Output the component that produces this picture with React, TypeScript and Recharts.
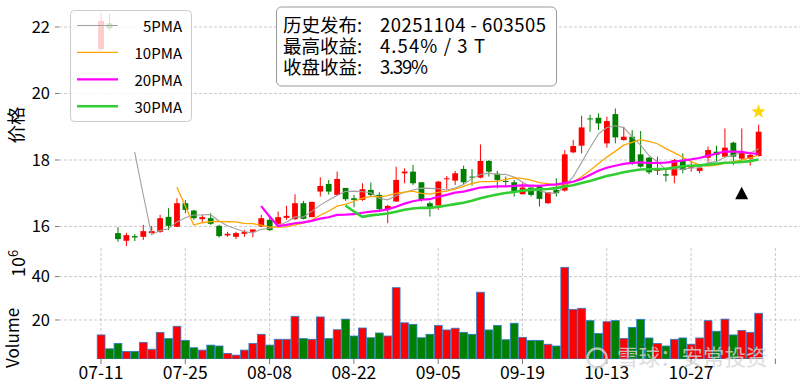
import React from "react";
import { ComposedChart, Bar, Line, XAxis, YAxis, CartesianGrid, Scatter } from "recharts";

const FONT = '"Noto Sans CJK SC", "Noto Sans", sans-serif';
const RED = "#ff0000";
const GREEN = "#008000";

// trading days 07-11 .. 11-06
const dates = [
  "07-11", "07-14", "07-15", "07-16", "07-17", "07-18", "07-21", "07-22", "07-23", "07-24",
  "07-25", "07-28", "07-29", "07-30", "07-31", "08-01", "08-04", "08-05", "08-06", "08-07",
  "08-08", "08-11", "08-12", "08-13", "08-14", "08-15", "08-18", "08-19", "08-20", "08-21",
  "08-22", "08-25", "08-26", "08-27", "08-28", "08-29", "09-01", "09-02", "09-03", "09-04",
  "09-05", "09-08", "09-09", "09-10", "09-11", "09-12", "09-15", "09-16", "09-17", "09-18",
  "09-19", "09-22", "09-23", "09-24", "09-25", "09-26", "09-29", "09-30", "10-09", "10-10",
  "10-13", "10-14", "10-15", "10-16", "10-17", "10-20", "10-21", "10-22", "10-23", "10-24",
  "10-27", "10-28", "10-29", "10-30", "10-31", "11-03", "11-04", "11-05", "11-06",
];

const opens = [
  21.34, 22.11, 15.8, 15.57, 15.71, 15.69, 15.8, 15.84, 16.29, 15.99,
  16.7, 16.48, 16.22, 16.25, 16.02, 15.73, 15.69, 15.78, 15.84, 16.0,
  16.2, 16.08, 16.26, 16.22, 16.7, 16.28, 17.05, 17.28, 16.95, 17.16,
  16.85, 16.8, 17.1, 16.95, 16.52, 16.75, 17.6, 17.65, 17.33, 16.7,
  16.63, 17.42, 17.38, 17.73, 17.5, 17.47, 17.97, 17.59, 17.37, 17.33,
  16.97, 17.17, 17.2, 16.7, 17.1, 17.08, 18.23, 18.43, 19.25, 19.27,
  18.5, 19.38, 18.6, 18.7, 18.17, 18.07, 17.67, 17.57, 17.53, 17.97,
  17.77, 17.67, 18.07, 18.25, 18.1, 18.52, 18.04, 18.04, 18.12,
];
const highs = [
  22.43, 22.39, 15.98, 15.81, 15.77, 16.05, 16.02, 16.35, 16.55, 16.85,
  16.8, 16.5, 16.35, 16.4, 16.05, 15.84, 15.84, 15.9, 15.91, 16.35,
  16.35, 16.45, 16.62, 16.97, 16.77, 16.74, 17.48, 17.4, 17.65, 17.16,
  16.95, 17.3, 17.32, 17.03, 16.65, 17.8, 17.75, 17.85, 17.33, 16.75,
  17.37, 17.52, 17.67, 17.83, 17.73, 18.47, 18.0, 17.67, 17.5, 17.4,
  17.3, 17.25, 17.25, 17.03, 17.45, 18.3, 18.6, 19.33, 19.36, 19.4,
  19.3, 19.55, 19.0, 18.9, 18.87, 18.1, 18.1, 17.73, 18.03, 18.2,
  17.95, 17.85, 18.4, 18.43, 18.95, 18.55, 18.95, 18.25, 19.06,
];
const lows = [
  21.3, 21.9, 15.54, 15.41, 15.56, 15.59, 15.8, 15.81, 15.89, 15.99,
  16.4, 16.2, 16.14, 16.05, 15.67, 15.69, 15.62, 15.69, 15.68, 15.98,
  15.87, 16.06, 16.2, 16.2, 16.21, 16.28, 16.9, 16.96, 16.95, 16.77,
  16.58, 16.77, 16.9, 16.48, 16.1, 16.75, 17.3, 17.25, 16.75, 16.3,
  16.5, 17.13, 17.25, 17.27, 17.23, 17.45, 17.5, 17.15, 17.2, 16.9,
  16.97, 16.9, 16.6, 16.68, 16.9, 17.05, 18.2, 18.2, 18.85, 18.9,
  18.37, 18.5, 18.58, 17.85, 17.77, 17.57, 17.55, 17.35, 17.3, 17.6,
  17.65, 17.6, 17.95, 17.97, 18.1, 17.85, 18.0, 17.83, 18.1,
];
const closes = [
  22.18, 21.96, 15.62, 15.74, 15.67, 15.86, 15.86, 16.25, 16.02, 16.7,
  16.5, 16.25, 16.28, 16.08, 15.71, 15.78, 15.8, 15.84, 15.91, 16.25,
  15.89, 16.28, 16.32, 16.7, 16.23, 16.74, 17.22, 17.05, 17.43, 16.82,
  16.8, 17.12, 16.95, 16.52, 16.62, 17.4, 17.65, 17.3, 16.8, 16.58,
  17.35, 17.45, 17.6, 17.33, 17.47, 17.97, 17.65, 17.4, 17.35, 17.07,
  17.17, 16.95, 16.83, 17.03, 17.0, 18.17, 18.42, 18.98, 19.22, 19.1,
  19.17, 18.68, 18.7, 17.88, 17.8, 17.63, 17.73, 17.53, 18.0, 17.7,
  17.83, 17.77, 18.3, 18.15, 18.37, 18.1, 18.23, 18.15, 18.85,
];
// volume, millions
const volumes = [
  13.1, 6.7, 9.2, 5.5, 5.5, 9.7, 6.5, 14.3, 11.4, 17.1,
  10.6, 7.2, 6.1, 8.4, 8.0, 4.6, 3.8, 6.1, 9.2, 13.4,
  8.4, 11.1, 11.1, 21.7, 11.4, 11.1, 21.4, 11.4, 15.5, 20.4,
  12.6, 16.3, 11.8, 14.0, 12.6, 34.9, 18.7, 18.0, 11.8, 13.4,
  17.5, 15.4, 16.2, 14.3, 13.4, 32.8, 15.4, 17.5, 10.9, 18.5,
  12.0, 10.6, 10.6, 8.8, 8.0, 44.3, 24.9, 25.4, 19.7, 13.8,
  19.2, 19.7, 11.5, 16.6, 20.3, 11.7, 9.2, 8.0, 11.1, 11.7,
  8.8, 11.7, 19.7, 14.8, 20.4, 13.1, 15.2, 14.3, 23.1,
];

const tickIdx = [0, 10, 20, 30, 40, 50, 60, 70, 80];
const priceTicks = [16, 18, 20, 22];
const volTicks = [20, 40];

const maWindows = [5, 10, 20, 30];
const maColors = ["#a0a0a0", "#ffa500", "#ff00ff", "#32cd32"];
const maWidths = [1.1, 1.3, 2.2, 2.6];

const publishMarks = [{ i: 76, y: 17.0 }];
const peakMarks = [{ i: 78, y: 19.45 }];

const infoLabels = ["历史发布:", "最高收益:", "收盘收益:"];
const infoValues = ["20251104 - 603505", "4.54% / 3 T", "3.39%"];

const rolling = (vals: number[], n: number) =>
  vals.map((_, i) => (i < n - 1 ? null : vals.slice(i - n + 1, i + 1).reduce((a, b) => a + b, 0) / n));

const maSeries = maWindows.map((n) => rolling(closes, n));

const rows = dates.map((d, i) => {
  const r: any = { i, date: d, o: opens[i], h: highs[i], l: lows[i], c: closes[i], v: volumes[i] };
  maWindows.forEach((n, k) => (r["ma" + n] = maSeries[k][i]));
  return r;
});

const X_DOMAIN: [number, number] = [-4.98, 82.92];
const BODY_W = 5.8;

const Candle = (props: any) => {
  const { x, y, width, height, payload } = props;
  const cx = x + width / 2;
  const top = Math.min(y, y + height);
  const span = Math.abs(height);
  const { o, h, l, c } = payload;
  const k = h > l ? span / (h - l) : 0;
  const yo = top + (h - o) * k;
  const yc = top + (h - c) * k;
  const col = c >= o ? RED : GREEN;
  const bt = Math.min(yo, yc);
  const bh = Math.max(Math.abs(yo - yc), 1);
  return (
    <g>
      <line x1={cx} x2={cx} y1={top} y2={top + span} stroke={col} strokeWidth={1} />
      <rect x={cx - BODY_W / 2} y={bt} width={BODY_W} height={bh} fill={col} />
    </g>
  );
};

const VolBar = (props: any) => {
  const { x, y, width, height, payload } = props;
  const cx = x + width / 2;
  const col = payload.c >= payload.o ? RED : GREEN;
  return <rect x={cx - 3.9} y={y} width={7.8} height={height} fill={col} stroke="#2b7bd0" strokeWidth={0.8} />;
};

const Triangle = (props: any) => {
  const { cx, cy } = props;
  return <path d={`M${cx},${cy - 6.5} L${cx + 6.5},${cy + 6} L${cx - 6.5},${cy + 6} Z`} fill="#000" />;
};

const Star = (props: any) => {
  const { cx, cy } = props;
  const pts: string[] = [];
  for (let j = 0; j < 10; j++) {
    const r = j % 2 === 0 ? 7.5 : 3;
    const a = -Math.PI / 2 + (j * Math.PI) / 5;
    pts.push(`${cx + r * Math.cos(a)},${cy + r * Math.sin(a)}`);
  }
  return <polygon points={pts.join(" ")} fill="#ffd700" />;
};

const tickStyle = { fontSize: 16.5, fill: "#000", fontFamily: FONT };

export default function App() {
  return (
    <div style={{ position: "absolute", left: 0, top: 0, width: 800, height: 385, background: "#fff", fontFamily: FONT }}>
      <div style={{ position: "absolute", left: 0, top: 0 }}>
        <ComposedChart width={800} height={248} data={rows} margin={{ top: 0, right: 0, bottom: 0, left: 0 }}>
          <CartesianGrid stroke="#bdbdbd" strokeDasharray="3 2" strokeWidth={0.8} syncWithTicks />
          <XAxis type="number" dataKey="i" domain={X_DOMAIN} allowDataOverflow ticks={tickIdx} height={0} tick={false} tickLine={false} axisLine={false} />
          <YAxis type="number" domain={[15.353, 22.812]} allowDataOverflow ticks={priceTicks} width={59} axisLine={false} tickSize={4} tickMargin={5} tickLine={{ stroke: "#777" }} tick={tickStyle} />
          <Bar dataKey={(d: any) => [d.l, d.h]} shape={Candle} isAnimationActive={false} />
          {maWindows.map((n, k) => (
            <Line key={n} type="linear" dataKey={"ma" + n} stroke={maColors[k]} strokeWidth={maWidths[k]} dot={false} isAnimationActive={false} />
          ))}
          <Scatter data={publishMarks} dataKey="y" shape={Triangle} isAnimationActive={false} />
          <Scatter data={peakMarks} dataKey="y" shape={Star} isAnimationActive={false} />
        </ComposedChart>
      </div>
      <div style={{ position: "absolute", left: 0, top: 248 }}>
        <ComposedChart width={800} height={137} data={rows} margin={{ top: 0, right: 0, bottom: 0, left: 0 }}>
          <CartesianGrid stroke="#bdbdbd" strokeDasharray="3 2" strokeWidth={0.8} syncWithTicks />
          <XAxis type="number" dataKey="i" domain={X_DOMAIN} allowDataOverflow ticks={tickIdx} height={26} axisLine={false} tickSize={5} tickMargin={3} tickLine={{ stroke: "#777" }} tick={{ ...tickStyle, fontSize: 17.5 }} tickFormatter={(v: number) => dates[v] ?? ""} />
          <YAxis type="number" domain={[2.0, 53.2]} allowDataOverflow ticks={volTicks} width={59} axisLine={false} tickSize={4} tickMargin={5} tickLine={{ stroke: "#777" }} tick={tickStyle} />
          <Bar dataKey="v" shape={VolBar} isAnimationActive={false} />
        </ComposedChart>
      </div>
      <svg width={800} height={385} style={{ position: "absolute", left: 0, top: 0, pointerEvents: "none" }} fontFamily={FONT}>
        <text transform="translate(23,125) rotate(-90)" textAnchor="middle" fontSize={18.5} fill="#000">价格</text>
        <text transform="translate(25,277) rotate(-90)" fontSize={18} fill="#000">
          10<tspan dy={-7} fontSize={13}>6</tspan>
        </text>
        <text transform="translate(19,338) rotate(-90)" textAnchor="middle" fontSize={17} fill="#000">Volume</text>

        <g>
          <rect x={70.5} y={10.5} width={121} height={111} rx={4} fill="#fff" fillOpacity={0.8} stroke="#cccccc" />
          {maWindows.map((n, k) => {
            const cy = 25.5 + k * 26.9;
            return (
              <g key={n}>
                <line x1={77} x2={118} y1={cy} y2={cy} stroke={maColors[k]} strokeWidth={maWidths[k]} />
                <text x={182} y={cy} textAnchor="end" dominantBaseline="central" fontSize={15} fill="#000">{n}PMA</text>
              </g>
            );
          })}
        </g>

        <g>
          <rect x={276.5} y={7} width={280} height={79} rx={5} fill="#fff" stroke="#999" />
          {infoLabels.map((lab, k) => {
            const y = 23.5 + k * 21.3;
            const valW = [166, 105, 48][k];
            return (
              <text key={lab} x={283} y={y} dominantBaseline="central" fontSize={18.5} fill="#000">
                {lab}
                <tspan x={380} textLength={valW} lengthAdjust="spacing">{infoValues[k]}</tspan>
              </text>
            );
          })}
        </g>

        <g opacity={0.8}>
          <circle cx={597} cy={358} r={9.5} fill="none" stroke="#d6d6d6" strokeWidth={2.5} />
          <text x={617} y={365} fontSize={21.5} fill="#d6d6d6">雪球：安常投资</text>
        </g>
      </svg>
    </div>
  );
}
